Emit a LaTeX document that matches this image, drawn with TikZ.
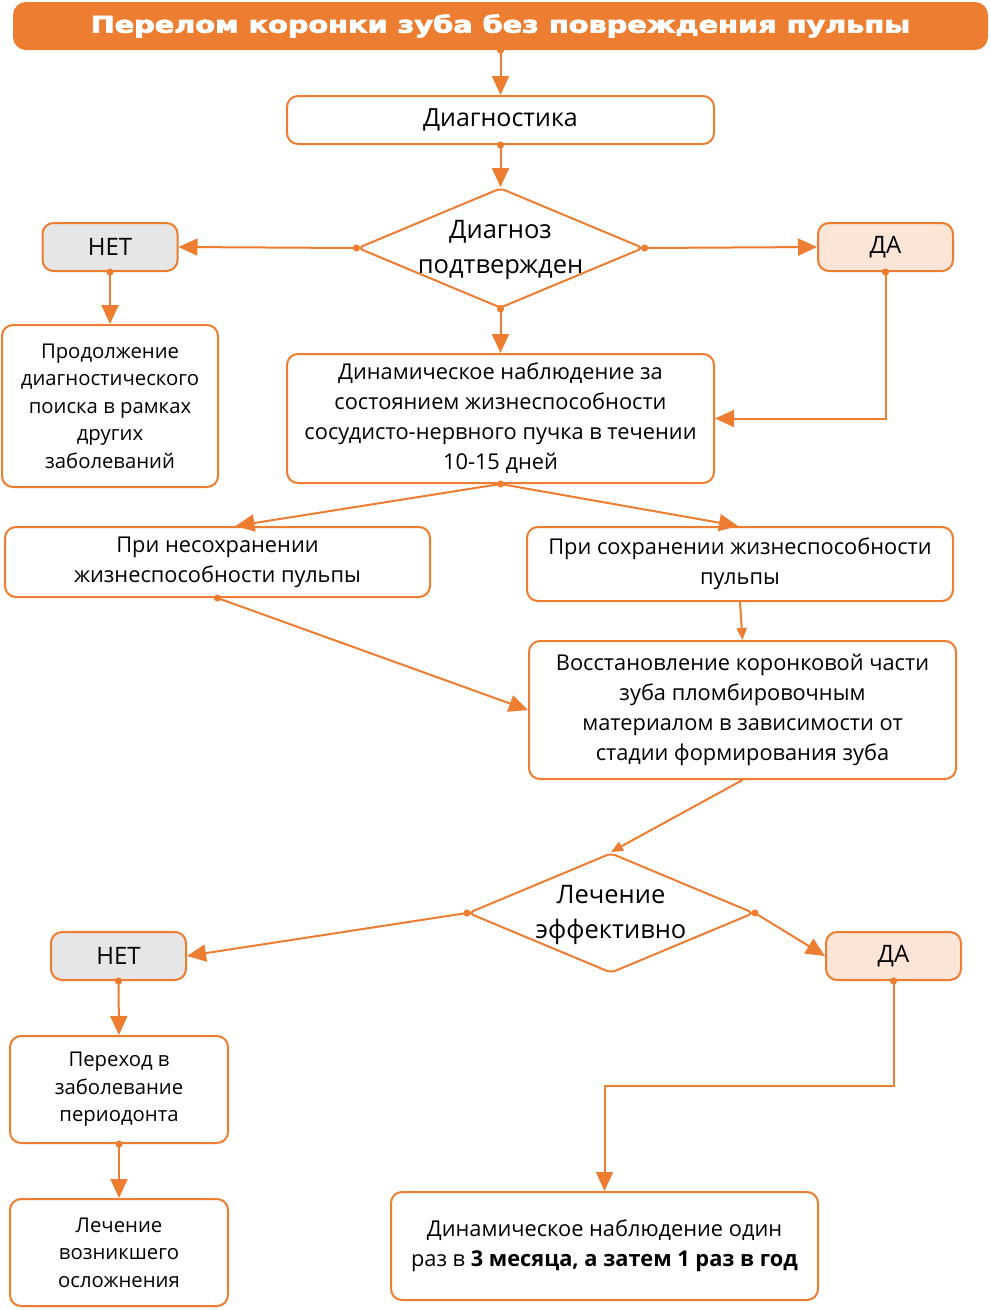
\documentclass[tikz,border=0pt]{standalone}
\usepackage{fontspec}
\setmainfont{Open Sans}
\newfontfamily\titlefont[BoldFeatures={FakeBold=3}]{DejaVu Sans}
\usetikzlibrary{arrows.meta,shapes.geometric,calc}
\definecolor{org}{HTML}{ED7D31}
\definecolor{netfill}{HTML}{E7E6E6}
\definecolor{dafill}{HTML}{FBE5D6}
\begin{document}
\begin{tikzpicture}[x=1pt,y=-1pt,
  box/.style={draw=org,line width=2pt,rounded corners=11pt,fill=white,align=center,inner sep=0pt,font=\fontsize{21.8}{30}\selectfont},
  sbox/.style={box,font=\fontsize{20.3}{27.5}\selectfont},
  yn/.style={box,font=\fontsize{24}{28}\selectfont,minimum width=135pt,minimum height=48pt},
  dec/.style={draw=org,line width=2pt,shape=diamond,rounded corners=5pt,fill=white,inner sep=0pt,minimum width=286pt,minimum height=120pt},
  dectext/.style={align=center,inner sep=0pt,font=\fontsize{25.5}{35}\selectfont},
  conn/.style={draw=org,line width=2pt,shorten <=-3.5pt,{Circle[length=7pt]}-{Triangle[length=19pt,width=17pt]}},
  nconn/.style={draw=org,line width=2pt,-{Triangle[length=19pt,width=17pt]}},
  sconn/.style={draw=org,line width=2pt,-{Triangle[length=12pt,width=10pt]}}
]
\useasboundingbox (0,0) rectangle (991,1310);
\fill[white] (0,0) rectangle (991,1310);

\node[fill=org,rounded corners=13pt,minimum width=975pt,minimum height=48pt,inner sep=0pt,text=white] (title) at (500.5,26)
  {\titlefont\bfseries\fontsize{23}{26}\selectfont\scalebox{1.25}[1]{Перелом коронки зуба без повреждения пульпы}};

\node[box,minimum width=427pt,minimum height=48pt,font=\fontsize{25}{28}\selectfont] (diag) at (500.5,120) {Диагностика};
\node[dec] (d1) at (500.5,248) {};
\node[dectext] (d1t) at (500.5,250) {Диагноз\\подтвержден};
\node[yn,fill=netfill] (net1) at (110,247) {НЕТ};
\node[yn,fill=dafill] (da1) at (885.5,247) {ДА};
\node[sbox,minimum width=216pt,minimum height=162pt] (prod) at (110,406)
  {Продолжение\\диагностического\\поиска в рамках\\других\\заболеваний};
\node[box,minimum width=427pt,minimum height=129pt] (dyn) at (500.5,418.5)
  {Динамическое наблюдение за\\состоянием жизнеспособности\\сосудисто-нервного пучка в течении\\10-15 дней};
\node[box,minimum width=425pt,minimum height=70pt] (nes) at (217.5,562)
  {При несохранении\\жизнеспособности пульпы};
\node[box,minimum width=426pt,minimum height=74pt] (sokh) at (740,564)
  {При сохранении жизнеспособности\\пульпы};
\node[box,minimum width=427pt,minimum height=138pt] (vos) at (742.5,710)
  {Восстановление коронковой части\\зуба пломбировочным\\материалом в зависимости от\\стадии формирования зуба};
\node[dec] (d2) at (611,913) {};
\node[dectext] (d2t) at (611,915) {Лечение\\эффективно};
\node[yn,fill=netfill] (net2) at (118.5,956) {НЕТ};
\node[yn,fill=dafill] (da2) at (893.5,956) {ДА};
\node[sbox,minimum width=218pt,minimum height=107pt] (per) at (119,1089.5)
  {Переход в\\заболевание\\периодонта};
\node[sbox,minimum width=218pt,minimum height=107pt] (lech) at (119,1252.5)
  {Лечение\\возникшего\\осложнения};
\node[box,minimum width=427pt,minimum height=108pt] (fin) at (604.5,1246)
  {Динамическое наблюдение один\\раз в \textbf{3 месяца, а затем 1 раз в год}};
\coordinate (bend) at (893.5,1086);

\draw[conn] (title.south) -- (diag.north);
\draw[conn] (diag.south) -- (d1.north);
\draw[conn] (d1.west) -- (net1.east);
\draw[conn] (d1.east) -- (da1.west);
\draw[conn] (net1.south) -- (prod.north);
\draw[conn] (d1.south) -- (dyn.north);
\draw[conn] (da1.south) |- (dyn.east);
\draw[conn] (dyn.south) -- ([xshift=18pt]nes.north);
\draw[nconn] (dyn.south) -- ([xshift=-2pt]sokh.north);
\draw[conn] (nes.south) -- (vos.west);
\draw[sconn] (sokh.south) -- (vos.north);
\draw[sconn] (vos.south) -- (d2.north);
\draw[conn] (d2.west) -- (net2.east);
\draw[conn] (d2.east) -- (da2.west);
\draw[conn] (net2.south) -- (per.north);
\draw[conn] (per.south) -- (lech.north);
\draw[conn] (da2.south) -- (bend) -| (fin.north);
\end{tikzpicture}
\end{document}
